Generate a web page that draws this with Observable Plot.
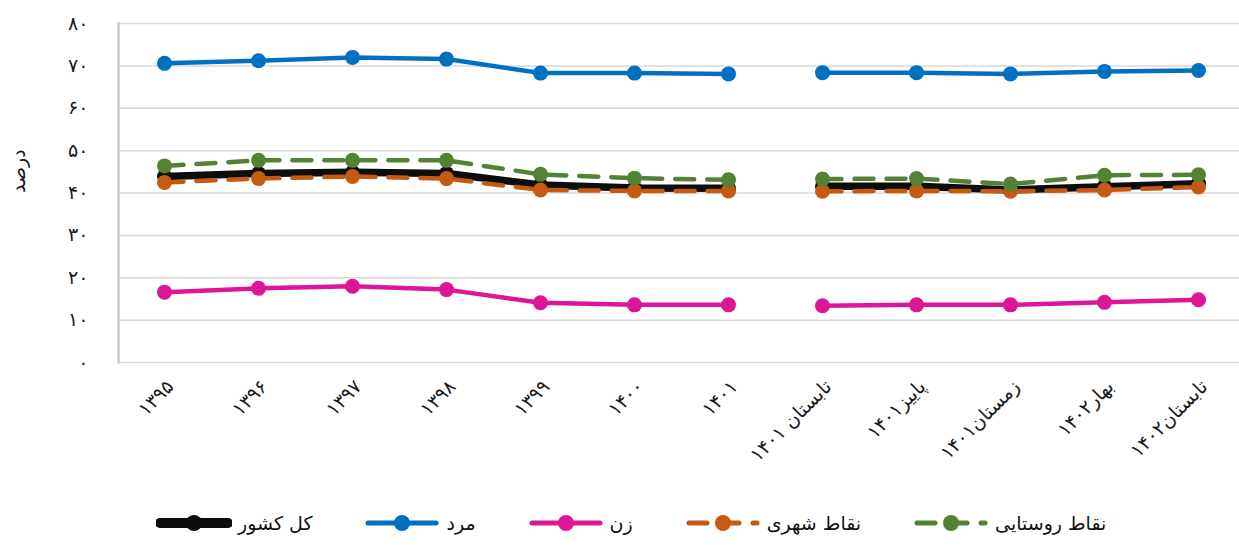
<!DOCTYPE html>
<html lang="fa">
<head>
<meta charset="utf-8">
<script src="https://cdn.jsdelivr.net/npm/d3@7"></script>
<script src="https://cdn.jsdelivr.net/npm/@observablehq/plot@0.6"></script>
<style>
  html, body { margin: 0; padding: 0; background: #ffffff; }
  body { width: 1239px; height: 545px; overflow: hidden; font-family: "DejaVu Sans", sans-serif; }
  #chart svg { display: block; }
  #legend { display: flex; align-items: center; gap: 52px; margin-left: 156px; height: 45px; margin-top: 0; }
  .item { display: flex; align-items: center; gap: 6px; font-size: 19px; color: #111; }
</style>
</head>
<body>
<div id="chart"></div>
<div id="legend"></div>
<script>
// ---- data ----
const categories = ["۱۳۹۵","۱۳۹۶","۱۳۹۷","۱۳۹۸","۱۳۹۹","۱۴۰۰","۱۴۰۱","تابستان ۱۴۰۱","پاییز۱۴۰۱","زمستان۱۴۰۱","بهار۱۴۰۲","تابستان۱۴۰۲"];
const segmentOf = ["سالانه","سالانه","سالانه","سالانه","سالانه","سالانه","سالانه","فصلی","فصلی","فصلی","فصلی","فصلی"];
const seriesNames = ["کل کشور","مرد","زن","نقاط شهری","نقاط روستایی"];
const totalValues = [43.9, 44.6, 44.9, 44.6, 41.9, 41.2, 41.1, 41.6, 41.6, 40.7, 41.5, 42.2];
const maleValues = [70.6, 71.2, 72.0, 71.6, 68.3, 68.3, 68.1, 68.4, 68.4, 68.1, 68.7, 68.9];
const femaleValues = [16.6, 17.5, 18.0, 17.2, 14.1, 13.6, 13.6, 13.4, 13.6, 13.6, 14.2, 14.8];
const urbanValues = [42.5, 43.4, 43.9, 43.4, 40.7, 40.5, 40.5, 40.4, 40.5, 40.4, 40.7, 41.4];
const ruralValues = [46.4, 47.7, 47.7, 47.7, 44.4, 43.5, 43.1, 43.3, 43.4, 42.1, 44.2, 44.3];
const yTicks = [0, 10, 20, 30, 40, 50, 60, 70, 80];
const yTickLabels = ["۰","۱۰","۲۰","۳۰","۴۰","۵۰","۶۰","۷۰","۸۰"];
const yTitle = "درصد";

// ---- styles ----
const colors = ["#0d0d0d", "#0070c0", "#dd1597", "#c55a11", "#548235"];
const widths = [7.5, 4.5, 4.5, 4.5, 4.5];
const dashes = [null, null, null, "19,13", "19,13"];

const valueSets = [totalValues, maleValues, femaleValues, urbanValues, ruralValues];
const rows = seriesNames.flatMap((s, si) => categories.map((c, i) => ({
  series: s, cat: c, seg: segmentOf[i], key: s + "|" + segmentOf[i], value: valueSets[si][i]
})));

const seriesMarks = seriesNames.flatMap((s, si) => {
  const data = rows.filter(d => d.series === s);
  return [
    Plot.line(data, {x: "cat", y: "value", z: "key", stroke: colors[si], strokeWidth: widths[si],
      strokeDasharray: dashes[si] || undefined, strokeLinecap: "round", strokeLinejoin: "round"}),
    Plot.dot(data, {x: "cat", y: "value", r: 7.5, fill: colors[si], stroke: "none"})
  ];
});

const chart = Plot.plot({
  width: 1239,
  height: 500,
  marginLeft: 118,
  marginRight: 0,
  marginTop: 23,
  marginBottom: 138,
  style: {fontFamily: "DejaVu Sans, sans-serif", fontSize: "18px", color: "#1a1a1a", background: "transparent"},
  x: {type: "point", domain: categories, range: [162, 1200], padding: 0, label: null},
  y: {domain: [0, 80], label: null},
  marks: [
    Plot.ruleY(yTicks, {stroke: "#d9d9d9", strokeWidth: 1.5}),
    Plot.frame({anchor: "left", stroke: "#bfbfbf", strokeWidth: 2}),
    Plot.axisY({ticks: yTicks, tickFormat: d => yTickLabels[yTicks.indexOf(d)], tickSize: 0, tickPadding: 30, fontSize: 19}),
    Plot.axisX({tickRotate: -45, tickSize: 0, tickPadding: 21, fontSize: 19, dx: 6}),
    Plot.text([yTitle], {frameAnchor: "left", dx: -100, rotate: -90, fontSize: 19, fill: "#1a1a1a"}),
    ...seriesMarks
  ]
});
document.getElementById("chart").appendChild(chart);

// ---- legend ----
const legend = document.getElementById("legend");
seriesNames.forEach((s, si) => {
  const item = document.createElement("div");
  item.className = "item";
  const ns = "http://www.w3.org/2000/svg";
  const sw = document.createElementNS(ns, "svg");
  sw.setAttribute("width", 76); sw.setAttribute("height", 22);
  const ln = document.createElementNS(ns, "line");
  ln.setAttribute("x1", 4); ln.setAttribute("x2", 72); ln.setAttribute("y1", 11); ln.setAttribute("y2", 11);
  ln.setAttribute("stroke", colors[si]);
  ln.setAttribute("stroke-width", si === 0 ? 10 : 5);
  ln.setAttribute("stroke-linecap", "round");
  if (dashes[si]) ln.setAttribute("stroke-dasharray", "18,14");
  const c = document.createElementNS(ns, "circle");
  c.setAttribute("cx", 38); c.setAttribute("cy", 11); c.setAttribute("r", 8);
  c.setAttribute("fill", colors[si]);
  sw.appendChild(ln); sw.appendChild(c);
  const t = document.createElement("span");
  t.textContent = s;
  item.appendChild(sw); item.appendChild(t);
  legend.appendChild(item);
});
</script>
</body>
</html>
